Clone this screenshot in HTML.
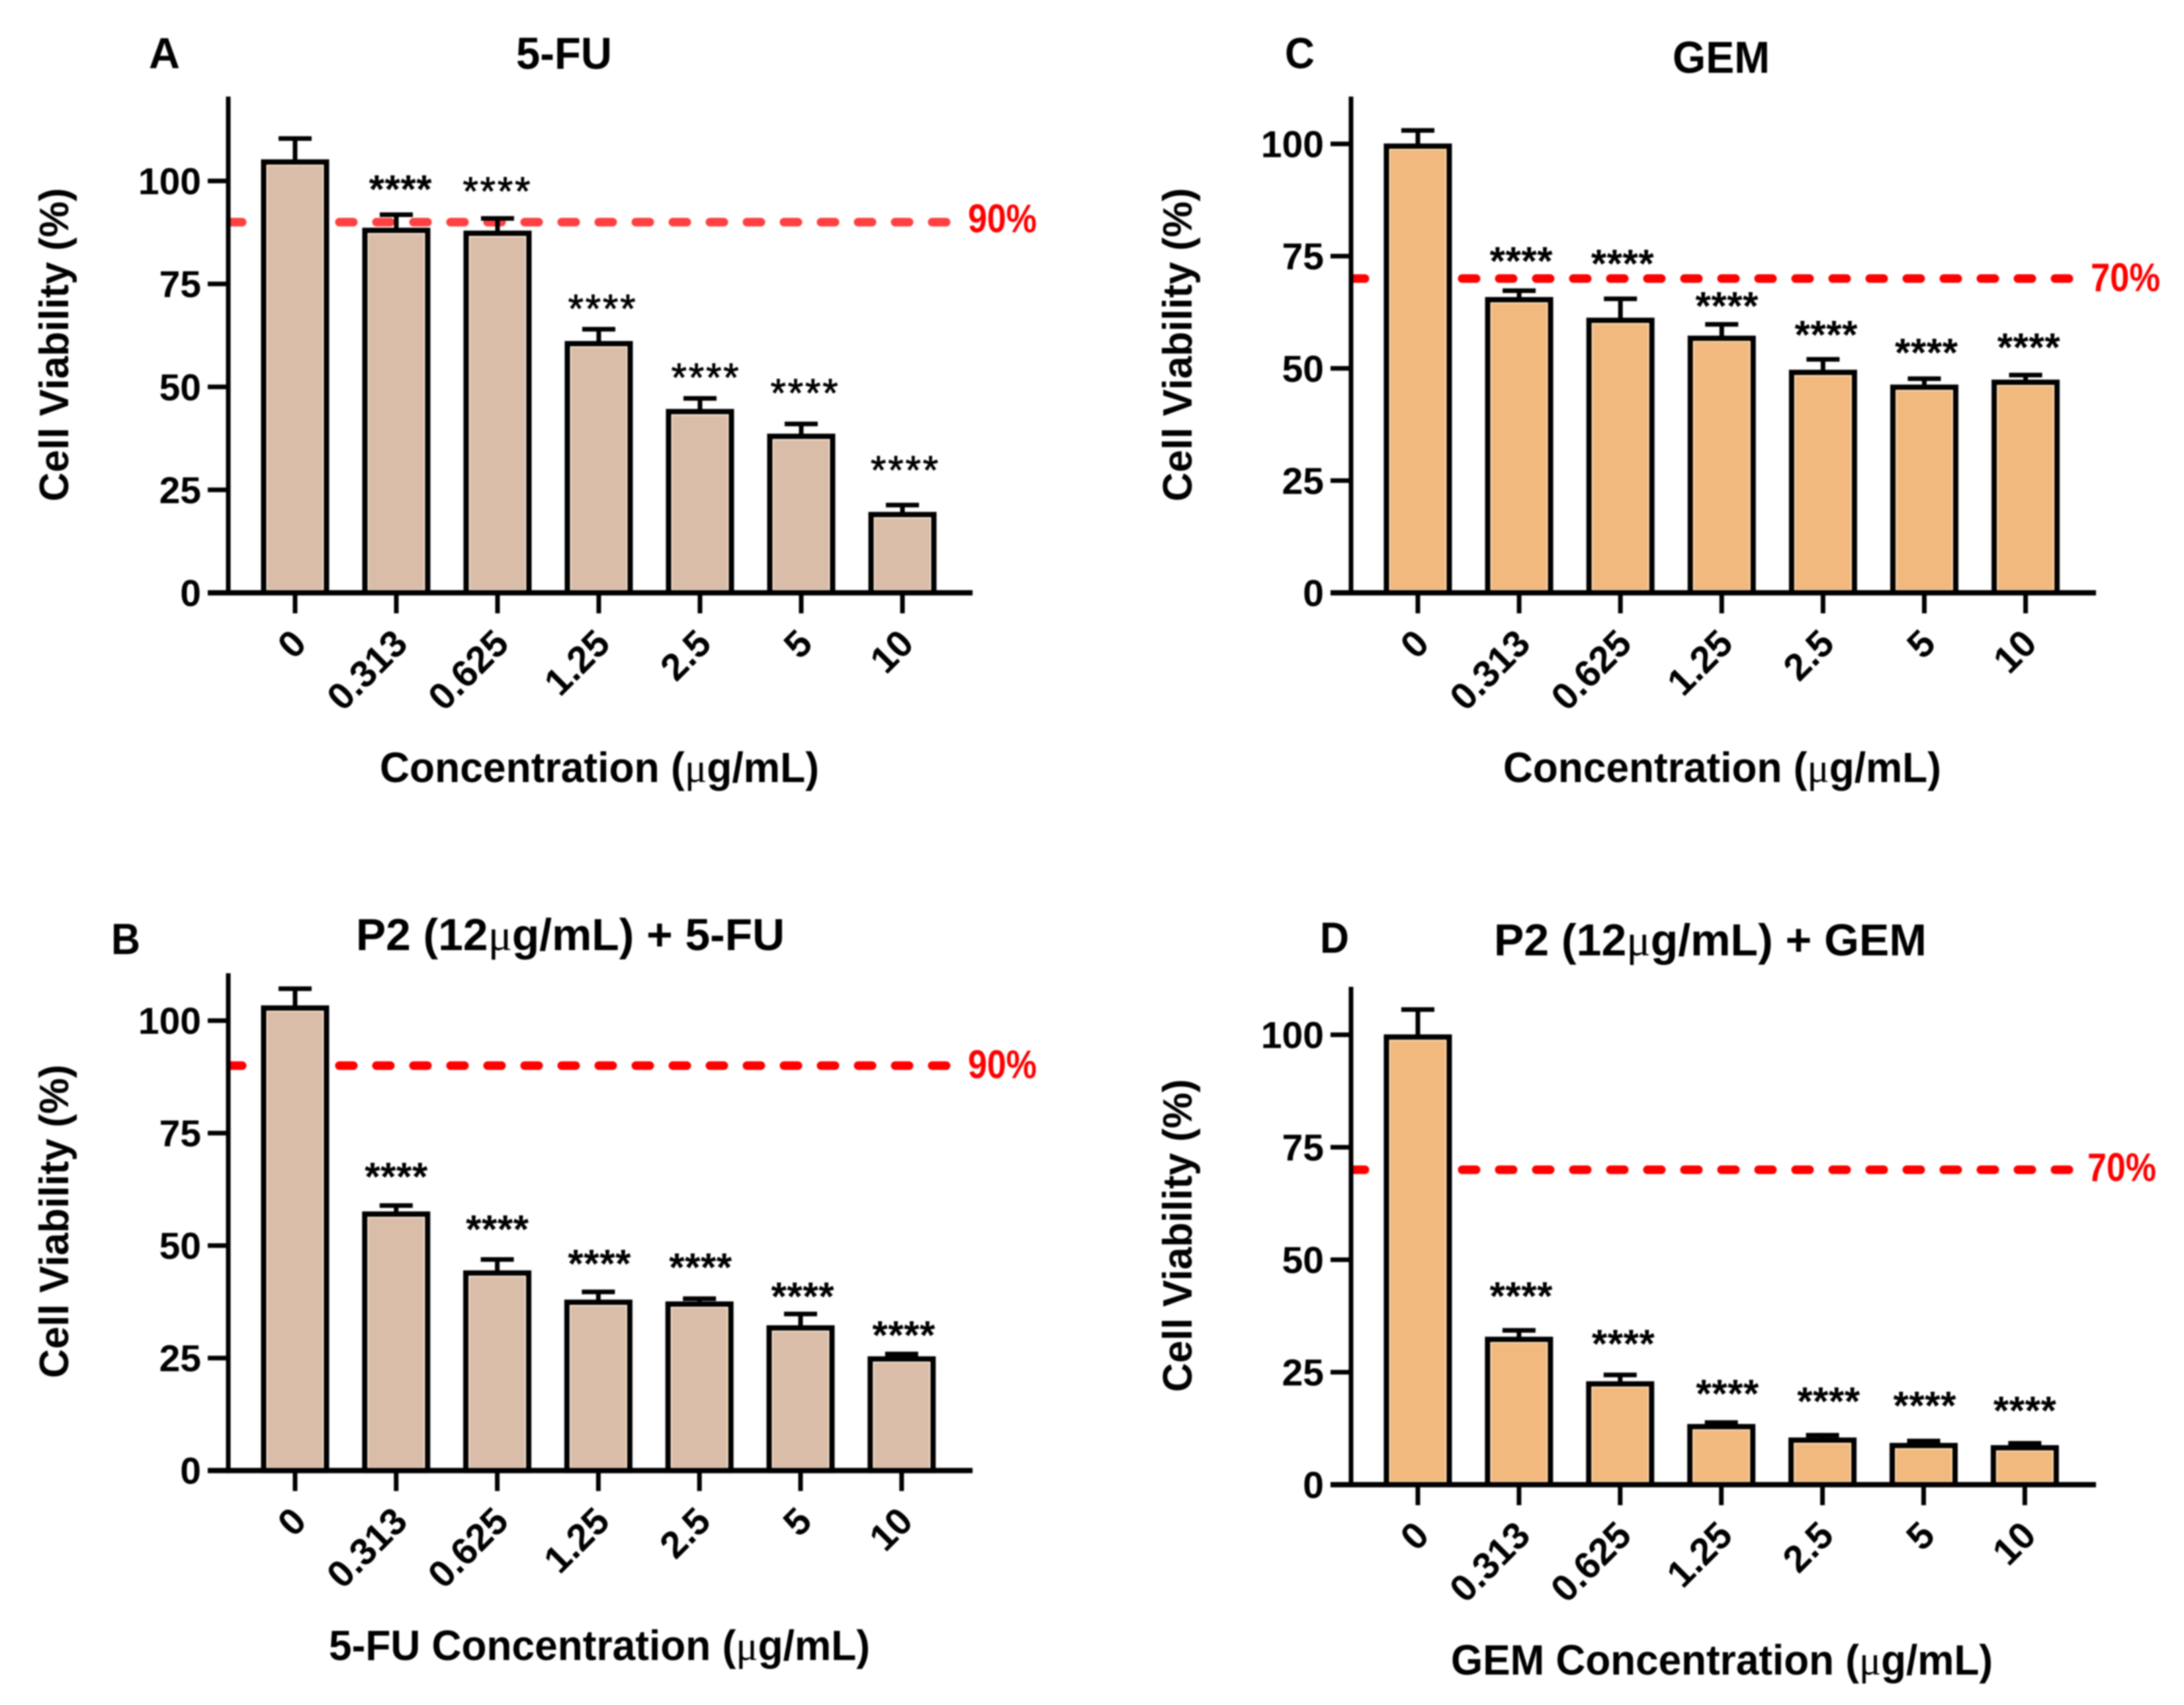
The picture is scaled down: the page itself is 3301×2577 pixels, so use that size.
<!DOCTYPE html>
<html lang="en">
<head>
<meta charset="utf-8">
<title>Cell viability bar charts</title>
<style>
html,body{margin:0;padding:0;background:#fff;}
svg{display:block;filter:blur(1px);}
text{font-family:"Liberation Sans",sans-serif;font-weight:700;fill:#000;}
</style>
</head>
<body>
<svg id="figure" xmlns="http://www.w3.org/2000/svg" width="3301" height="2577" viewBox="0 0 3301 2577"></svg>
<script>
const categories = ["0", "0.313", "0.625", "1.25", "2.5", "5", "10"];
const yTickValues = [0, 25, 50, 75, 100];

const valuesA = [104.6, 88, 87.3, 60.5, 44, 38, 19];
const upperA = [110.3, 91.8, 90.9, 64, 47.2, 41, 21.3];
const starLevelsA = [null, 99.2, 98.7, 70.2, 53.5, 49.7, 31];
const starShiftA = [0, 0.04, -0.01, 0.03, 0.05, 0.03, 0.02];
const starBoldA = [true, true, false, false, false, false, false];

const valuesC = [99.5, 65.3, 60.7, 56.7, 49.1, 45.8, 46.9];
const upperC = [103, 67.3, 65.5, 59.8, 52, 47.7, 48.5];
const starLevelsC = [null, 75, 74.4, 65, 58.6, 54.6, 55.8];
const starShiftC = [0, 0.02, 0.02, 0.05, 0.03, 0.02, 0.03];
const starBoldC = [true, true, true, true, true, true, true];

const valuesB = [102.8, 57, 43.9, 37.4, 37, 31.7, 24.8];
const upperB = [107.1, 58.9, 46.9, 39.7, 38.2, 34.8, 25.9];
const starLevelsB = [null, 66.4, 54.7, 47.1, 46.3, 39.8, 31.2];
const starShiftB = [0, 0, 0, 0.01, 0.01, 0.02, 0.02];
const starBoldB = [true, true, true, true, true, true, true];

const valuesD = [99.5, 32.3, 22.4, 12.9, 9.9, 8.7, 8.2];
const upperD = [105.6, 34.3, 24.4, 13.8, 11, 9.7, 9.2];
const starLevelsD = [null, 43, 32.4, 21.3, 19.6, 18.7, 17.6];
const starShiftD = [0, 0.02, 0.03, 0.06, 0.06, 0.01, 0];
const starBoldD = [true, true, true, true, true, true, true];

const panels = [
  {id:"a", letter:"A", title:"5-FU", xPrefix:"", values:valuesA, upper:upperA, stars:starLevelsA, shift:starShiftA, bold:starBoldA,
   refValue:90, refDy:-6, fill:"#d9bda8", edge:"#f6e3d0", dash:"#ff4040",
   axisX:345, y0:896, k:6.225, x0:446, dx:153, top:146, xEnd:1470, refEnd:1439,
   refX:1463, refW:104, letterX:225, letterY:103, letterW:47, titleX:780, titleW:145, titleY:104,
   xLabX:574, xLabW:664, xLabY:1182, yLabX:103, yLabTop:284, yLabBot:758},
  {id:"c", letter:"C", title:"GEM", xPrefix:"", values:valuesC, upper:upperC, stars:starLevelsC, shift:starShiftC, bold:starBoldC,
   refValue:70, refDy:-2, fill:"#f2b97f", edge:"#fddcb0", dash:"#ff0000",
   axisX:2042, y0:896, k:6.785, x0:2143, dx:153.1, top:146, xEnd:3168, refEnd:3136,
   refX:3160, refW:105, letterX:1942, letterY:103, letterW:45, titleX:2528, titleW:147, titleY:110,
   xLabX:2272, xLabW:662, xLabY:1182, yLabX:1801, yLabTop:284, yLabBot:758},
  {id:"b", letter:"B", title:"P2 (12|g/mL) + 5-FU", xPrefix:"5-FU ", values:valuesB, upper:upperB, stars:starLevelsB, shift:starShiftB, bold:starBoldB,
   refValue:90, refDy:-2, fill:"#d9bda8", edge:"#f6e3d0", dash:"#ff0000",
   axisX:345, y0:2222.6, k:6.80, x0:446, dx:152.8, top:1471, xEnd:1470, refEnd:1439,
   refX:1463, refW:104, letterX:168, letterY:1442, letterW:44, titleX:538, titleW:648, titleY:1436,
   xLabX:497, xLabW:818, xLabY:2509, yLabX:103, yLabTop:1609, yLabBot:2083},
  {id:"d", letter:"D", title:"P2 (12|g/mL) + GEM", xPrefix:"GEM ", values:valuesD, upper:upperD, stars:starLevelsD, shift:starShiftD, bold:starBoldD,
   refValue:70, refDy:-4, fill:"#f2b97f", edge:"#fddcb0", dash:"#ff0000",
   axisX:2042, y0:2244, k:6.80, x0:2143, dx:152.9, top:1491.5, xEnd:3168, refEnd:3136,
   refX:3155, refW:104, letterX:1995, letterY:1440, letterW:44, titleX:2258, titleW:654, titleY:1444,
   xLabX:2193, xLabW:819, xLabY:2531, yLabX:1801, yLabTop:1631, yLabBot:2104}
];

const NS = "http://www.w3.org/2000/svg";
const figure = document.getElementById("figure");

function make(tag, parent, attrs) {
  const node = document.createElementNS(NS, tag);
  for (const key in attrs) node.setAttribute(key, attrs[key]);
  parent.appendChild(node);
  return node;
}

function fillMixedText(node, str) {
  const parts = str.split("|");
  node.appendChild(document.createTextNode(parts[0]));
  if (parts.length > 1) {
    const mu = make("tspan", node, {"font-family": "Liberation Serif", "font-weight": "400"});
    mu.textContent = "\u03bc";
    node.appendChild(document.createTextNode(parts[1]));
  }
}

const defs = make("defs", figure, {});

panels.forEach(function (p) {
  const xScale = function (i) { return p.x0 + i * p.dx; };
  const yScale = function (v) { return p.y0 - v * p.k; };

  const group = make("g", figure, {});
  
  

  const clip = make("clipPath", defs, {id: "plot-clip-" + p.id});
  make("rect", clip, {x: p.axisX, y: p.top, width: p.xEnd - p.axisX, height: p.y0 - p.top});

  const refY = yScale(p.refValue);
  const refLine = make("line", group, {x1: p.axisX, x2: p.refEnd, y1: refY, y2: refY, stroke: p.dash, "stroke-width": 13, "stroke-linecap": "round", "stroke-dasharray": "21 35", "clip-path": "url(#plot-clip-" + p.id + ")"});
  
  

  p.values.forEach(function (v, i) {
    const cx = xScale(i);
    const topY = yScale(v);
    const capY = yScale(p.upper[i]);

    const bar = make("rect", group, {x: cx - 47.5, y: topY, width: 95, height: p.y0 - topY, fill: p.fill, stroke: "#000", "stroke-width": 8});
    
    

    const edge = make("rect", group, {x: cx - 42.5, y: topY + 5, width: 85, height: Math.max(0, p.y0 - topY - 9), fill: "none", stroke: p.edge, "stroke-width": 2});
    
    

    const stem = make("line", group, {x1: cx, x2: cx, y1: topY, y2: capY, stroke: "#000", "stroke-width": 7});
    
    

    const cap = make("line", group, {x1: cx - 25, x2: cx + 25, y1: capY, y2: capY, stroke: "#000", "stroke-width": 7});
    
    

    if (p.stars[i] !== null) {
      const star = make("text", group, {x: cx + p.shift[i] * p.dx, y: yScale(p.stars[i]) + 28, "text-anchor": "middle", "font-size": 60, textLength: p.bold[i] ? 95 : 102, lengthAdjust: "spacing", style: p.bold[i] ? "font-weight:700" : "font-weight:400;stroke:#000;stroke-width:1"});
      
      
      star.textContent = "****";
    }

    const tick = make("line", group, {x1: cx, x2: cx, y1: p.y0, y2: p.y0 + 31, stroke: "#000", "stroke-width": 7});
    
    

    const ax = cx + 20;
    const ay = p.y0 + 80;
    const label = make("text", group, {x: ax, y: ay, "text-anchor": "end", "font-size": 57, transform: "rotate(-45 " + ax + " " + ay + ")"});
    
    
    label.textContent = categories[i];
  });

  yTickValues.forEach(function (t) {
    const ty = yScale(t);
    const tick = make("line", group, {x1: p.axisX - 31, x2: p.axisX, y1: ty, y2: ty, stroke: "#000", "stroke-width": 7});
    
    

    const label = make("text", group, {x: p.axisX - 41, y: ty + 20, "text-anchor": "end", "font-size": 57});
    
    
    label.textContent = String(t);
  });

  const yAxis = make("line", group, {x1: p.axisX, x2: p.axisX, y1: p.top, y2: p.y0 + 4, stroke: "#000", "stroke-width": 7});
  
  

  const xAxis = make("line", group, {x1: p.axisX - 31, x2: p.xEnd, y1: p.y0, y2: p.y0, stroke: "#000", "stroke-width": 8});
  
  

  const refLabel = make("text", group, {x: p.refX, y: refY + 21 + p.refDy, "font-size": 60, textLength: p.refW, lengthAdjust: "spacingAndGlyphs", style: "fill:#ff0000"});
  
  
  refLabel.textContent = p.refValue + "%";

  const letter = make("text", group, {x: p.letterX, y: p.letterY, "font-size": 66, textLength: p.letterW, lengthAdjust: "spacingAndGlyphs"});
  
  
  letter.textContent = p.letter;

  const title = make("text", group, {x: p.titleX, y: p.titleY, "font-size": 68, textLength: p.titleW, lengthAdjust: "spacingAndGlyphs"});
  
  
  fillMixedText(title, p.title);

  const xLabel = make("text", group, {x: p.xLabX, y: p.xLabY, "font-size": 64, textLength: p.xLabW, lengthAdjust: "spacingAndGlyphs"});
  
  
  fillMixedText(xLabel, p.xPrefix + "Concentration (|g/mL)");

  const yLabel = make("text", group, {x: p.yLabX, y: p.yLabBot, "font-size": 62, textLength: p.yLabBot - p.yLabTop, lengthAdjust: "spacingAndGlyphs", transform: "rotate(-90 " + p.yLabX + " " + p.yLabBot + ")"});
  
  
  yLabel.textContent = "Cell Viability (%)";
});
</script>
</body>
</html>
